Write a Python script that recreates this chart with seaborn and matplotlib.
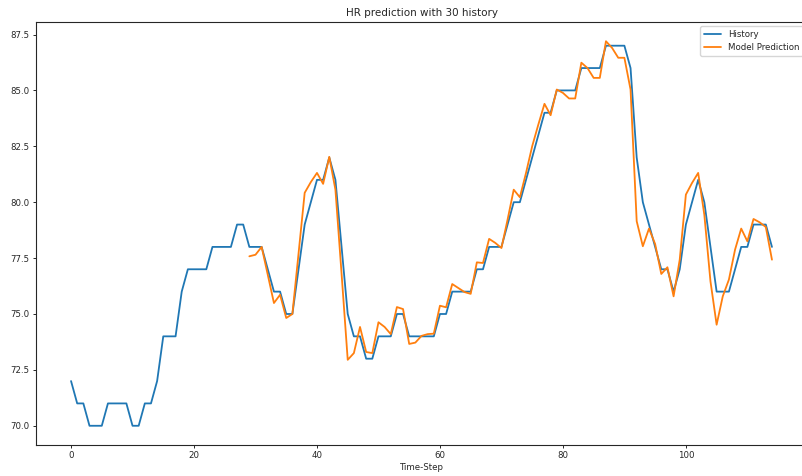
"""
HR prediction plot: history vs model prediction
"""

import pandas as pd
import numpy as np
import matplotlib
matplotlib.use('Agg')
import matplotlib.pyplot as plt
import seaborn as sns

sns.set_style('ticks')
plt.rcParams['font.family'] = ['DejaVu Sans']

# History heart rate, time steps 0..114
history = [72, 71, 71, 70, 70, 70, 71, 71, 71, 71,
           70, 70, 71, 71, 72, 74, 74, 74, 76, 77,
           77, 77, 77, 78, 78, 78, 78, 79, 79, 78,
           78, 78, 77, 76, 76, 75, 75, 77, 79, 80,
           81, 81, 82, 81, 78, 75, 74, 74, 73, 73,
           74, 74, 74, 75, 75, 74, 74, 74, 74, 74,
           75, 75, 76, 76, 76, 76, 77, 77, 78, 78,
           78, 79, 80, 80, 81, 82, 83, 84, 84, 85,
           85, 85, 85, 86, 86, 86, 86, 87, 87, 87,
           87, 86, 82, 80, 79, 78, 77, 77, 76, 77,
           79, 80, 81, 80, 78, 76, 76, 76, 77, 78,
           78, 79, 79, 79, 78]

# Model prediction, time steps 29..114
pred_start = 29
prediction = [77.58, 77.65, 78.0, 76.75, 75.49, 75.86, 74.82, 75.0, 77.7, 80.42,
              80.9, 81.31, 80.82, 82.03, 80.56, 76.8, 72.95, 73.25, 74.42, 73.3,
              73.25, 74.63, 74.42, 74.1, 75.31, 75.22, 73.66, 73.72, 74.02, 74.1,
              74.12, 75.37, 75.3, 76.34, 76.16, 75.98, 75.9, 77.31, 77.28, 78.36,
              78.18, 77.95, 79.22, 80.56, 80.22, 81.31, 82.5, 83.47, 84.4, 83.89,
              85.04, 84.89, 84.64, 84.64, 86.24, 86.0, 85.56, 85.56, 87.2, 86.9,
              86.46, 86.46, 85.04, 79.15, 78.03, 78.82, 78.13, 76.79, 77.09, 75.79,
              77.43, 80.34, 80.86, 81.31, 79.44, 76.46, 74.52, 75.79, 76.54, 77.88,
              78.82, 78.25, 79.25, 79.1, 78.89, 77.43]

hist_df = pd.DataFrame({'step': np.arange(len(history)), 'hr': history})
pred_df = pd.DataFrame({'step': np.arange(pred_start, pred_start + len(prediction)),
                        'hr': prediction})

fig = plt.figure(figsize=(8.02, 4.76), dpi=100)
ax = fig.add_axes([36 / 802, 31 / 476, 771 / 802, 423 / 476])

sns.lineplot(data=hist_df, x='step', y='hr', ax=ax, color='#1f77b4',
             linewidth=1.3, label='History')
sns.lineplot(data=pred_df, x='step', y='hr', ax=ax, color='#ff7f0e',
             linewidth=1.3, label='Model Prediction')

ax.set_xticks([0, 20, 40, 60, 80, 100])
ax.set_yticks([70.0, 72.5, 75.0, 77.5, 80.0, 82.5, 85.0, 87.5])
ax.set_yticklabels(['{:.1f}'.format(v) for v in ax.get_yticks()])
ax.tick_params(labelsize=6.2, length=2.5, width=0.7, pad=2)
for s in ax.spines.values():
    s.set_linewidth(0.8)

ax.set_title('HR prediction with 30 history', fontsize=7.45, pad=4)
ax.set_xlabel('Time-Step', fontsize=6.2, labelpad=2)
ax.set_ylabel('')
ax.legend(loc='upper right', fontsize=6.2, frameon=True, handlelength=2.0,
          borderaxespad=0.5)

fig.savefig('out.png', dpi=100)
